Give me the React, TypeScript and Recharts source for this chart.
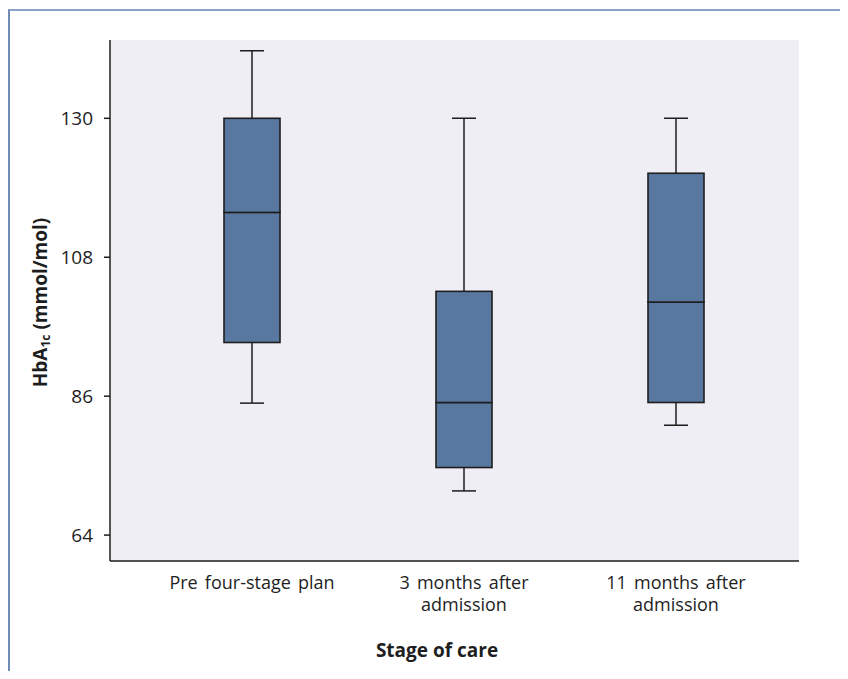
import React from "react";
import { BarChart, Bar, XAxis, YAxis, CartesianGrid } from "recharts";

const categories = ["Pre four-stage plan", "3 months after\nadmission", "11 months after\nadmission"];
const mins = [84.9, 71.0, 81.4];
const q1s = [94.5, 74.7, 85.0];
const medians = [115.1, 85.0, 100.9];
const q3s = [130, 102.6, 121.3];
const maxs = [140.7, 130, 130];
const yTicks = [64, 86, 108, 130];

const data = categories.map((c, i) => ({
  cat: c,
  base: mins[i],
  lowW: q1s[i] - mins[i],
  boxLow: medians[i] - q1s[i],
  boxHigh: q3s[i] - medians[i],
  highW: maxs[i] - q3s[i],
}));

const FONT = "'Open Sans', Lato, sans-serif";
const INK = "#1e1e1e";
const BOX = "#5878a0";
const CAP = 24;

const LowWhisker = (p: any) => {
  const cx = p.x + p.width / 2;
  const yb = p.y + p.height;
  return (
    <g>
      <line x1={cx} x2={cx} y1={p.y} y2={yb} stroke={INK} strokeWidth={1.5} />
      <line x1={cx - CAP / 2} x2={cx + CAP / 2} y1={yb} y2={yb} stroke={INK} strokeWidth={1.5} />
    </g>
  );
};
const HighWhisker = (p: any) => {
  const cx = p.x + p.width / 2;
  return (
    <g>
      <line x1={cx} x2={cx} y1={p.y} y2={p.y + p.height} stroke={INK} strokeWidth={1.5} />
      <line x1={cx - CAP / 2} x2={cx + CAP / 2} y1={p.y} y2={p.y} stroke={INK} strokeWidth={1.5} />
    </g>
  );
};
const BoxPart = (p: any) => (
  <rect x={p.x} y={p.y} width={p.width} height={p.height} fill={BOX} stroke={INK} strokeWidth={1.6} />
);
const Empty = () => <g />;

const XTick = (p: any) => {
  const lines = String(p.payload.value).split("\n");
  return (
    <g>
      {lines.map((l, i) => (
        <text
          key={i}
          x={p.x}
          y={561 + 28 + i * 22}
          textAnchor="middle"
          fontFamily={FONT}
          fontSize={18}
          wordSpacing={2.5}
          fill={INK}
        >
          {l}
        </text>
      ))}
    </g>
  );
};

const XLabel = (p: any) => {
  const vb = p.viewBox || {};
  return (
    <text x={437} y={vb.y + vb.height + 36} textAnchor="middle" fontFamily={FONT} fontSize={19} fontWeight="bold" fill={INK}>
      Stage of care
    </text>
  );
};

const YLabel = (p: any) => {
  const vb = p.viewBox || {};
  const cx = 40;
  const cy = vb.y + vb.height / 2 + 2;
  return (
    <text
      x={cx}
      y={cy}
      transform={`rotate(-90 ${cx} ${cy})`}
      textAnchor="middle"
      dominantBaseline="central"
      fontFamily={FONT}
      fontSize={19}
      fontWeight="bold"
      fill={INK}
    >
      HbA
      <tspan dy={5} fontSize={12}>1c</tspan>
      <tspan dy={-5}> (mmol/mol)</tspan>
    </text>
  );
};

export default function App() {
  return (
    <div style={{ margin: -8, width: 848, height: 679, position: "relative", overflow: "hidden", background: "#fff" }}>
      <div
        style={{
          position: "absolute",
          left: 8,
          top: 9,
          width: 900,
          height: 720,
          borderTop: "2px solid #8aa3c6",
          borderLeft: "2px solid #6f8cb6",
        }}
      />
      <div style={{ position: "absolute", left: 0, top: 0 }}>
        <BarChart width={848} height={679} data={data} margin={{ top: 40, right: 49, bottom: 58, left: 0 }} barSize={56}>
          <CartesianGrid fill="#eeeef4" stroke="none" horizontal={false} vertical={false} />
          <XAxis
            dataKey="cat"
            axisLine={{ stroke: INK, strokeWidth: 1.5 }}
            tickLine={false}
            tick={<XTick />}
            height={60}
            padding={{ left: 36, right: 17 }}
            interval={0}
            label={<XLabel />}
          />
          <YAxis
            type="number"
            domain={[59.9, 142.4]}
            allowDataOverflow
            ticks={yTicks}
            width={110}
            axisLine={{ stroke: INK, strokeWidth: 1.5 }}
            tickLine={{ stroke: INK, strokeWidth: 1.5 }}
            tickSize={6}
            tickMargin={11}
            tick={{ fontFamily: FONT, fontSize: 19, fill: INK }}
            label={<YLabel />}
          />
          <Bar dataKey="base" stackId="b" fill="none" shape={<Empty />} isAnimationActive={false} />
          <Bar dataKey="lowW" stackId="b" shape={<LowWhisker />} isAnimationActive={false} />
          <Bar dataKey="boxLow" stackId="b" shape={<BoxPart />} isAnimationActive={false} />
          <Bar dataKey="boxHigh" stackId="b" shape={<BoxPart />} isAnimationActive={false} />
          <Bar dataKey="highW" stackId="b" shape={<HighWhisker />} isAnimationActive={false} />
        </BarChart>
      </div>
    </div>
  );
}
